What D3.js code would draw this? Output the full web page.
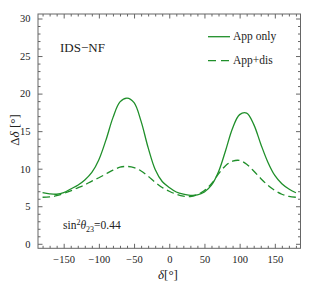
<!DOCTYPE html>
<html lang="en">
<head>
<meta charset="UTF-8">
<title>IDS-NF precision on delta</title>
<script src="https://d3js.org/d3.v7.min.js"></script>
<style>
    body { margin: 0; background: #fff; }
    text { font-family: "Liberation Serif", "Times New Roman", serif; fill: #222; }
    .axis path { display: none; }
    .axis line { stroke: #666; }
    .axis text { font-size: 10.5px; }
    .curve { fill: none; stroke: #1f8f2a; stroke-width: 1.3px; }
</style>
</head>
<body>
<svg width="313" height="291"></svg>
<script>
// delta (deg) sampled every 10 degrees
const deltas = [-180, -170, -160, -150, -140, -130, -120, -110, -100, -90, -80, -70, -60, -50, -40, -30, -20, -10,
                0, 10, 20, 30, 40, 50, 60, 70, 80, 90, 100, 110, 120, 130, 140, 150, 160, 170, 180];
const appOnly = [6.8, 6.65, 6.6, 6.8, 7.3, 7.8, 8.5, 9.5, 11.2, 13.8, 16.8, 18.9, 19.4, 18.8, 16.3, 12.8, 9.9, 8.3,
                 7.5, 6.9, 6.6, 6.45, 6.5, 6.9, 7.8, 9.6, 12.4, 15.4, 17.2, 17.4, 15.9, 13.3, 10.9, 9.1, 8.0, 7.3, 6.8];
const appDis = [6.2, 6.25, 6.4, 6.7, 7.05, 7.45, 7.85, 8.35, 8.8, 9.3, 9.8, 10.2, 10.3, 10.15, 9.7, 9.0, 8.2, 7.5,
                7.0, 6.6, 6.35, 6.3, 6.55, 7.1, 8.0, 9.3, 10.4, 11.0, 11.1, 10.6, 9.7, 8.7, 7.8, 7.1, 6.6, 6.3, 6.2];
const seriesNames = ["App only", "App+dis"];
const xMajor = [-150, -100, -50, 0, 50, 100, 150];
const yMajor = [0, 5, 10, 15, 20, 25, 30];

const svg = d3.select("svg");
const mLeft = 38, mRight = 300.5, mTop = 14, mBottom = 248.3;

const x = d3.scaleLinear().domain([-186.5, 186.5]).range([mLeft, mRight]);
const y = d3.scaleLinear().domain([-0.6, 30.6]).range([mBottom, mTop]);

const xMinor = d3.range(-180, 181, 10).filter(d => !xMajor.includes(d));
const yMinor = d3.range(0, 31, 1).filter(d => !yMajor.includes(d));
const fmt = d => d < 0 ? "\u2212" + Math.abs(d) : d;

// major + minor ticks on all four sides, pointing inward
function addAxis(gen, tx, ty, vals, size, labels) {
    svg.append("g")
        .attr("class", "axis")
        .attr("transform", `translate(${tx},${ty})`)
        .call(gen.tickValues(vals).tickSize(-size).tickPadding(size + 3)
            .tickFormat(labels ? fmt : ""));
}
addAxis(d3.axisBottom(x), 0, mBottom, xMajor, 4.5, true);
addAxis(d3.axisBottom(x), 0, mBottom, xMinor, 2.5, false);
addAxis(d3.axisTop(x), 0, mTop, xMajor, 4.5, false);
addAxis(d3.axisTop(x), 0, mTop, xMinor, 2.5, false);
addAxis(d3.axisLeft(y), mLeft, 0, yMajor, 4.5, true);
addAxis(d3.axisLeft(y), mLeft, 0, yMinor, 2.5, false);
addAxis(d3.axisRight(y), mRight, 0, yMajor, 4.5, false);
addAxis(d3.axisRight(y), mRight, 0, yMinor, 2.5, false);

svg.append("rect")
    .attr("x", mLeft).attr("y", mTop)
    .attr("width", mRight - mLeft).attr("height", mBottom - mTop)
    .attr("fill", "none").attr("stroke", "#666").attr("stroke-width", 1);

const line = d3.line()
    .x((d, i) => x(deltas[i]))
    .y(d => y(d))
    .curve(d3.curveCatmullRom.alpha(0.5));

svg.append("path").attr("class", "curve").attr("d", line(appOnly));
svg.append("path").attr("class", "curve").attr("d", line(appDis))
    .attr("stroke-dasharray", "7.5,4");

// legend
const legend = svg.append("g");
[0, 1].forEach(i => {
    const ly = 36.7 + i * 24;
    legend.append("line")
        .attr("class", "curve")
        .attr("x1", 208).attr("x2", 230)
        .attr("y1", ly).attr("y2", ly)
        .attr("stroke-dasharray", i === 1 ? "8,5" : null);
    legend.append("text")
        .attr("x", 233).attr("y", ly + 3.5)
        .style("font-size", "11.5px")
        .text(seriesNames[i]);
});

svg.append("text")
    .attr("x", 60).attr("y", 52)
    .style("font-size", "13px")
    .text("IDS\u2212NF");

const s = svg.append("text")
    .attr("x", 63).attr("y", 229)
    .style("font-size", "11.5px");
s.append("tspan").text("sin");
s.append("tspan").attr("dy", -4.5).style("font-size", "8px").text("2");
s.append("tspan").attr("dy", 4.5).style("font-style", "italic").text("\u03b8");
s.append("tspan").attr("dy", 3).style("font-size", "8px").text("23");
s.append("tspan").attr("dy", -3).text("=0.44");

// axis titles
const xt = svg.append("text")
    .attr("x", 168).attr("y", 279)
    .attr("text-anchor", "middle")
    .style("font-size", "13px");
xt.append("tspan").style("font-style", "italic").text("\u03b4");
xt.append("tspan").text("[\u00b0]");

const yt = svg.append("text")
    .attr("transform", "translate(19,130) rotate(-90)")
    .attr("text-anchor", "middle")
    .style("font-size", "13px");
yt.append("tspan").text("\u0394");
yt.append("tspan").style("font-style", "italic").text("\u03b4");
yt.append("tspan").text(" [\u00b0]");
</script>
</body>
</html>
